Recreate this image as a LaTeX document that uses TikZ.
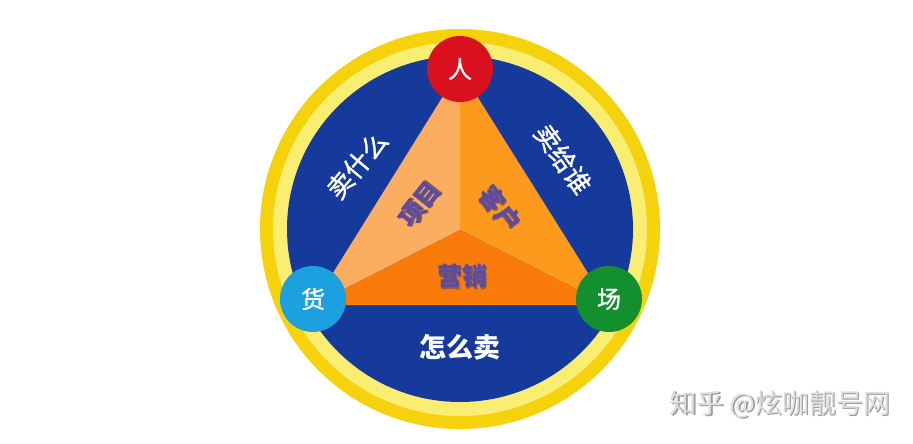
\documentclass[tikz,border=0pt]{standalone}
\usepackage{fontspec}
\newfontfamily\cjk{Noto Sans CJK SC}
\newfontfamily\cjkmid[FakeBold=1.2]{Noto Sans CJK SC}
\definecolor{ringgold}{HTML}{F5D20C}
\definecolor{ringpale}{HTML}{F9EE72}
\definecolor{diskblue}{HTML}{163A9C}
\definecolor{renred}{HTML}{D9101E}
\definecolor{huoblue}{HTML}{1BA0E0}
\definecolor{changgreen}{HTML}{138F2E}
\definecolor{orangelight}{HTML}{FBAE5F}
\definecolor{orangemid}{HTML}{FB9A1C}
\definecolor{orangedeep}{HTML}{F97C0B}
\definecolor{innertext}{HTML}{5A4BA6}
\definecolor{innershadow}{HTML}{8A5A50}
\newcommand\shadetext[2]{\makebox[0pt][l]{\hspace{1.5pt}\raisebox{-1.5pt}{\textcolor{#1}{#2}}}#2}
\begin{document}
\begin{tikzpicture}[x=1pt,y=-1pt,
    corner/.style={circle,minimum size=66pt,inner sep=0pt,text=white,
      font=\cjkmid\fontsize{24}{24}\selectfont},
    outer/.style={text=white,font=\cjkmid\fontsize{26}{26}\selectfont},
    inner/.style={text=innertext,font=\cjk\bfseries\fontsize{25}{25}\selectfont}]
    \useasboundingbox (0,0) rectangle (913,444);
    \fill[white] (0,0) rectangle (913,444);

    % rings and disk
    \coordinate (mid) at (460,229);
    \fill[ringgold] (mid) circle (200);
    \fill[ringpale] (mid) circle (187);
    \fill[diskblue] (mid) circle (173);

    % triangle
    \coordinate (top) at (460,69);
    \coordinate (left) at (313,305);
    \coordinate (right) at (608,305);
    \coordinate (core) at (460,230);
    \fill[orangelight] (top) -- (core) -- (left) -- cycle;
    \fill[orangemid] (top) -- (right) -- (core) -- cycle;
    \fill[orangedeep] (left) -- (core) -- (right) -- cycle;

    % corners
    \node[corner,fill=renred] (ren) at (460,69) {人};
    \node[corner,fill=huoblue] (huo) at (313,299) {货};
    \node[corner,fill=changgreen] (chang) at (609,299) {场};

    % outer labels
    \node[outer,rotate=50] (what) at (357,165) {卖什么};
    \node[outer,rotate=-55] (whom) at (563,159) {卖给谁};
    \node[outer,font=\cjk\bfseries\fontsize{27}{27}\selectfont] (how) at (460,347) {怎么卖};

    % inner labels
    \node[inner,rotate=52] (xiangmu) at (420,205) {\shadetext{innershadow}{项目}};
    \node[inner,rotate=-52] (kehu) at (500,209) {\shadetext{innershadow}{客户}};
    \node[inner] (yingxiao) at (462,277) {\shadetext{innershadow}{营销}};

    % watermark
    \node[text=black!13,font=\cjk\fontsize{27}{27}\selectfont] (mark) at (780,405)
      {\shadetext{black!40}{知乎 @炫咖靓号网}};
\end{tikzpicture}
\end{document}
